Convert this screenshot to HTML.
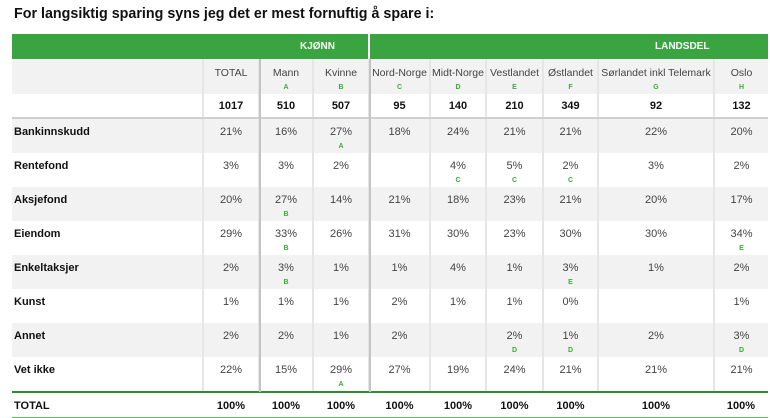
<!DOCTYPE html>
<html><head><meta charset="utf-8"><style>
body{margin:0;width:770px;height:417px;background:#fff;position:relative;overflow:hidden;font-family:"Liberation Sans",Arial,sans-serif;}
.t{position:absolute;left:14px;top:6px;font-size:14.3px;font-weight:bold;color:#111;}
.g{position:absolute;top:34px;height:25px;background:#3aa441;color:#fff;font-size:10px;font-weight:bold;}
table{position:absolute;left:12px;top:59px;border-collapse:collapse;table-layout:fixed;width:756px;}
td{padding:0;text-align:center;vertical-align:top;font-size:11px;color:#444;border-left:2px solid #e6e6e6;overflow:hidden;white-space:nowrap;}
td:first-child{border-left:none;text-align:left;font-weight:bold;color:#111;padding-left:2px;font-size:11px;}
tr.gr td{background:#f2f2f2;}
tr.d td{height:34px;}
tr.d td div.v{margin-top:7px;height:14px;}
.l{color:#3aaa3a;font-size:7px;font-weight:bold;margin-top:3px;}
tr.h td{height:35px;font-size:10.5px;}
tr.h td div.v{margin-top:8px;height:14px;}
tr.n td{font-weight:bold;color:#111;padding-top:6px;height:17px;}
tr.tot td{font-weight:bold;color:#111;height:17px;padding-top:7px;border-left:none;}
.vl{position:absolute;width:2px;background:#c4c4c4;top:59px;height:333px;}
</style></head><body>
<div class="t">For langsiktig sparing syns jeg det er mest fornuftig å spare i:</div>
<div class="g" style="left:12px;width:356px;"><span style="position:absolute;left:288px;top:7px;">KJØNN</span></div>
<div class="g" style="left:370px;width:398px;"><span style="position:absolute;left:285px;top:7px;">LANDSDEL</span></div>
<table>
<colgroup><col style="width:191px"><col style="width:56px"><col style="width:54px"><col style="width:56px"><col style="width:61px"><col style="width:56px"><col style="width:57px"><col style="width:55px"><col style="width:116px"><col style="width:54px"></colgroup>
<tr class="h gr"><td></td><td><div class="v">TOTAL</div></td><td><div class="v">Mann</div><div class="l">A</div></td><td><div class="v">Kvinne</div><div class="l">B</div></td><td><div class="v">Nord-Norge</div><div class="l">C</div></td><td><div class="v">Midt-Norge</div><div class="l">D</div></td><td><div class="v">Vestlandet</div><div class="l">E</div></td><td><div class="v">Østlandet</div><div class="l">F</div></td><td><div class="v">Sørlandet inkl Telemark</div><div class="l">G</div></td><td><div class="v">Oslo</div><div class="l">H</div></td></tr>
<tr class="n"><td></td><td>1017</td><td>510</td><td>507</td><td>95</td><td>140</td><td>210</td><td>349</td><td>92</td><td>132</td></tr>
<tr><td colspan="10" style="height:2px;background:#d0d0d0;border:none;padding:0"></td></tr>
<tr class="d gr"><td><div class="v">Bankinnskudd</div></td><td><div class="v">21%</div></td><td><div class="v">16%</div></td><td><div class="v">27%</div><div class="l">A</div></td><td><div class="v">18%</div></td><td><div class="v">24%</div></td><td><div class="v">21%</div></td><td><div class="v">21%</div></td><td><div class="v">22%</div></td><td><div class="v">20%</div></td></tr>
<tr class="d"><td><div class="v">Rentefond</div></td><td><div class="v">3%</div></td><td><div class="v">3%</div></td><td><div class="v">2%</div></td><td><div class="v"></div></td><td><div class="v">4%</div><div class="l">C</div></td><td><div class="v">5%</div><div class="l">C</div></td><td><div class="v">2%</div><div class="l">C</div></td><td><div class="v">3%</div></td><td><div class="v">2%</div></td></tr>
<tr class="d gr"><td><div class="v">Aksjefond</div></td><td><div class="v">20%</div></td><td><div class="v">27%</div><div class="l">B</div></td><td><div class="v">14%</div></td><td><div class="v">21%</div></td><td><div class="v">18%</div></td><td><div class="v">23%</div></td><td><div class="v">21%</div></td><td><div class="v">20%</div></td><td><div class="v">17%</div></td></tr>
<tr class="d"><td><div class="v">Eiendom</div></td><td><div class="v">29%</div></td><td><div class="v">33%</div><div class="l">B</div></td><td><div class="v">26%</div></td><td><div class="v">31%</div></td><td><div class="v">30%</div></td><td><div class="v">23%</div></td><td><div class="v">30%</div></td><td><div class="v">30%</div></td><td><div class="v">34%</div><div class="l">E</div></td></tr>
<tr class="d gr"><td><div class="v">Enkeltaksjer</div></td><td><div class="v">2%</div></td><td><div class="v">3%</div><div class="l">B</div></td><td><div class="v">1%</div></td><td><div class="v">1%</div></td><td><div class="v">4%</div></td><td><div class="v">1%</div></td><td><div class="v">3%</div><div class="l">E</div></td><td><div class="v">1%</div></td><td><div class="v">2%</div></td></tr>
<tr class="d"><td><div class="v">Kunst</div></td><td><div class="v">1%</div></td><td><div class="v">1%</div></td><td><div class="v">1%</div></td><td><div class="v">2%</div></td><td><div class="v">1%</div></td><td><div class="v">1%</div></td><td><div class="v">0%</div></td><td><div class="v"></div></td><td><div class="v">1%</div></td></tr>
<tr class="d gr"><td><div class="v">Annet</div></td><td><div class="v">2%</div></td><td><div class="v">2%</div></td><td><div class="v">1%</div></td><td><div class="v">2%</div></td><td><div class="v"></div></td><td><div class="v">2%</div><div class="l">D</div></td><td><div class="v">1%</div><div class="l">D</div></td><td><div class="v">2%</div></td><td><div class="v">3%</div><div class="l">D</div></td></tr>
<tr class="d"><td><div class="v">Vet ikke</div></td><td><div class="v">22%</div></td><td><div class="v">15%</div></td><td><div class="v">29%</div><div class="l">A</div></td><td><div class="v">27%</div></td><td><div class="v">19%</div></td><td><div class="v">24%</div></td><td><div class="v">21%</div></td><td><div class="v">21%</div></td><td><div class="v">21%</div></td></tr>
<tr><td colspan="10" style="height:2px;background:#2e8b2e;border:none;padding:0"></td></tr>
<tr class="tot"><td>TOTAL</td><td>100%</td><td>100%</td><td>100%</td><td>100%</td><td>100%</td><td>100%</td><td>100%</td><td>100%</td><td>100%</td></tr>
<tr><td colspan="10" style="height:1px;background:#5cbf5c;border:none;padding:0"></td></tr>
</table>
<div class="vl" style="left:259px;"></div>
<div class="vl" style="left:369px;"></div>
</body></html>
